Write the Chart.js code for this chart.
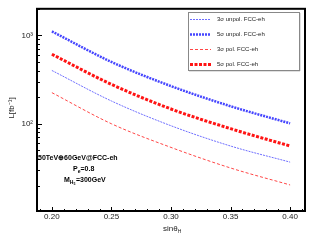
<!DOCTYPE html>
<html>
<head>
<meta charset="utf-8">
<script src="https://cdn.jsdelivr.net/npm/chart.js@4"></script>
<style>
  html, body { margin: 0; padding: 0; background: #fff; }
  #wrap { width: 315px; height: 240px; }
</style>
</head>
<body>
<div id="wrap"><canvas id="lumiChart" width="315" height="240"></canvas></div>
<script>
// sin(theta_H) values and required luminosity [fb^-1]
const sinTheta = [0.20, 0.25, 0.30, 0.35, 0.40];
const unpol3 = [401, 181, 95, 56, 36.8];
const unpol5 = [1110, 501, 267, 158, 101];
const pol3 = [225, 100, 54, 31.6, 20.3];
const pol5 = [612, 279, 147, 88, 56];

const xTicks = [0.20, 0.25, 0.30, 0.35, 0.40];
const yTicks = [100, 1000];
const yTickLabels = ["10²", "10³"];

const seriesNames = ["3σ unpol. FCC-eh", "5σ unpol. FCC-eh", "3σ pol. FCC-eh", "5σ pol. FCC-eh"];

const BLUE = "rgb(70,70,255)";
const LIGHT_BLUE = "rgb(110,110,255)";
const RED = "rgb(255,20,20)";
const LIGHT_RED = "rgb(255,70,70)";
const FONT = "'Liberation Sans', Arial, sans-serif";

function pts(ys) {
  return sinTheta.map((x, i) => ({ x: x, y: ys[i] }));
}

function line(label, ys, color, width, dash) {
  return {
    label: label,
    data: pts(ys),
    borderColor: color,
    backgroundColor: color,
    borderWidth: width,
    borderDash: dash,
    pointRadius: 0,
    fill: false,
    cubicInterpolationMode: "monotone"
  };
}

// frame, inward ticks, legend box and the text inside the plot
const decorations = {
  id: "decorations",
  afterDatasetsDraw(chart) {
    const ctx = chart.ctx;
    const a = chart.chartArea;
    const xs = chart.scales.x;
    const ys = chart.scales.y;
    ctx.save();

    // inward ticks
    ctx.strokeStyle = "#000";
    ctx.lineWidth = 1;
    ctx.beginPath();
    for (let v = 0.19; v <= 0.411; v += 0.01) {
      const px = Math.round(xs.getPixelForValue(v)) + 0.5;
      const major = Math.abs(v * 20 - Math.round(v * 20)) < 1e-6;
      const len = major ? 4 : 2;
      ctx.moveTo(px, a.bottom);
      ctx.lineTo(px, a.bottom - len);
    }
    for (let d = 1; d <= 1000; d *= 10) {
      for (let k = 1; k <= 9; k++) {
        const v = k * d;
        if (v < ys.min || v > ys.max) continue;
        const py = Math.round(ys.getPixelForValue(v)) + 0.5;
        const len = k === 1 ? 5 : 3;
        ctx.moveTo(a.left, py);
        ctx.lineTo(a.left + len, py);
      }
    }
    ctx.stroke();

    // frame
    ctx.lineWidth = 2;
    ctx.strokeRect(a.left, a.top, a.right - a.left, a.bottom - a.top);

    // legend
    const lx = 188, ly = 12, lw = 111, lh = 58;
    ctx.fillStyle = "#fff";
    ctx.fillRect(lx, ly, lw, lh);
    ctx.fillStyle = "#666";
    ctx.fillRect(lx + lw, ly + 1, 1.2, lh);
    ctx.fillRect(lx + 1, ly + lh, lw, 1.2);
    ctx.lineWidth = 1;
    ctx.strokeStyle = "#888";
    ctx.strokeRect(lx + 0.5, ly + 0.5, lw, lh);
    chart.data.datasets.forEach((ds, i) => {
      const y = ly + 7.5 + i * 15;
      ctx.strokeStyle = ds.borderColor;
      ctx.lineWidth = ds.borderWidth;
      ctx.setLineDash(ds.borderDash);
      ctx.beginPath();
      ctx.moveTo(lx + 2, y);
      ctx.lineTo(lx + 23, y);
      ctx.stroke();
      ctx.setLineDash([]);
      ctx.fillStyle = "#222";
      ctx.font = "6px " + FONT;
      ctx.textBaseline = "middle";
      ctx.textAlign = "left";
      ctx.fillText(ds.label, lx + 29, y);
    });

    // annotation
    ctx.fillStyle = "#000";
    ctx.textBaseline = "middle";
    ctx.textAlign = "left";
    ctx.font = "bold 7px " + FONT;
    ctx.fillText("50TeV⊕60GeV@FCC-eh", a.left + 1, 158);
    let x = 73;
    ctx.fillText("P", x, 169);
    x += ctx.measureText("P").width;
    ctx.font = "bold 5px " + FONT;
    ctx.fillText("e", x, 171.5);
    x += ctx.measureText("e").width;
    ctx.font = "bold 7px " + FONT;
    ctx.fillText("=0.8", x, 169);
    x = 64;
    ctx.fillText("M", x, 180);
    x += ctx.measureText("M").width;
    ctx.font = "bold 5px " + FONT;
    ctx.fillText("H", x, 182.5);
    const hx = x + ctx.measureText("H").width;
    ctx.font = "bold 3.5px " + FONT;
    ctx.fillText("5", hx, 184.5);
    x = hx + 2.5;
    ctx.font = "bold 7px " + FONT;
    ctx.fillText("=300GeV", x, 180);

    // axis titles
    ctx.font = "8px " + FONT;
    ctx.fillStyle = "#222";
    ctx.textAlign = "left";
    ctx.fillText("sinθ", 163, 229);
    const sx = 163 + ctx.measureText("sinθ").width;
    ctx.font = "5px " + FONT;
    ctx.fillText("H", sx, 232);

    ctx.translate(12, 108);
    ctx.rotate(-Math.PI / 2);
    ctx.font = "8px " + FONT;
    ctx.textAlign = "center";
    ctx.fillText("L[fb⁻¹]", 0, 0);

    ctx.restore();
  }
};

new Chart(document.getElementById("lumiChart"), {
  type: "line",
  data: {
    datasets: [
      line(seriesNames[0], unpol3, LIGHT_BLUE, 1, [2, 1]),
      line(seriesNames[1], unpol5, BLUE, 2.5, [2, 1]),
      line(seriesNames[2], pol3, LIGHT_RED, 1, [3, 2]),
      line(seriesNames[3], pol5, RED, 3, [3, 1.5])
    ]
  },
  options: {
    responsive: false,
    animation: false,
    layout: { padding: { left: 0, right: 10, top: 7, bottom: 0 } },
    plugins: {
      legend: { display: false },
      tooltip: { enabled: false }
    },
    scales: {
      x: {
        type: "linear",
        min: 0.1875,
        max: 0.4125,
        afterFit(scale) { scale.height = 29; },
        afterBuildTicks(scale) { scale.ticks = xTicks.map(v => ({ value: v })); },
        ticks: {
          padding: 1,
          color: "#222",
          font: { family: FONT, size: 8 },
          maxRotation: 0,
          autoSkip: false,
          callback: v => v.toFixed(2)
        },
        grid: { display: false, drawTicks: false },
        border: { display: false }
      },
      y: {
        type: "logarithmic",
        min: 10.3,
        max: 2000,
        afterFit(scale) { scale.width = 37; },
        afterBuildTicks(scale) { scale.ticks = yTicks.map(v => ({ value: v })); },
        ticks: {
          padding: 4,
          color: "#222",
          font: { family: FONT, size: 8 },
          autoSkip: false,
          callback: v => yTickLabels[yTicks.indexOf(v)]
        },
        grid: { display: false, drawTicks: false },
        border: { display: false }
      }
    }
  },
  plugins: [decorations]
});
</script>
</body>
</html>
